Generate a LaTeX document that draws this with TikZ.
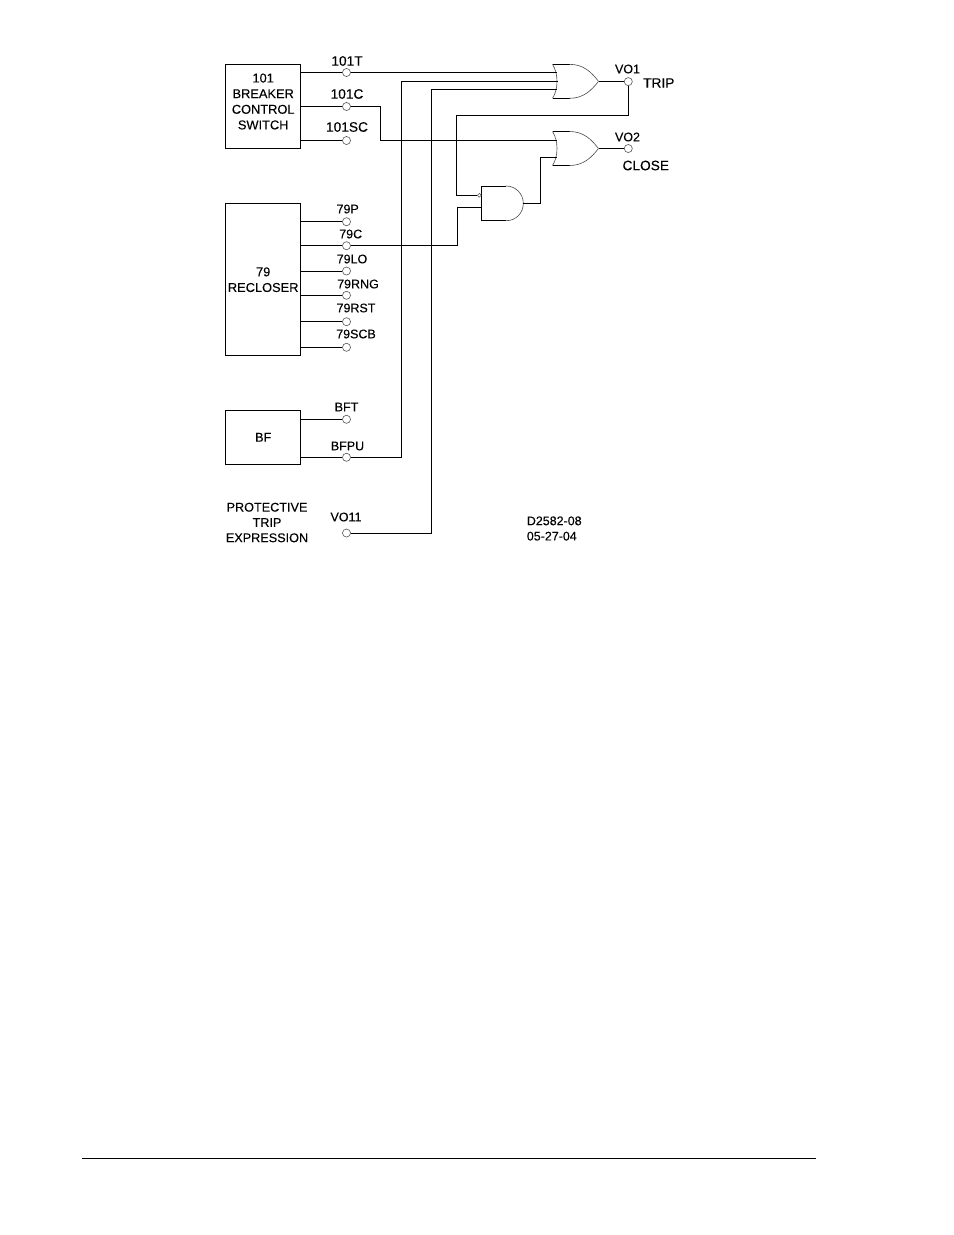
\documentclass[tikz,border=0pt]{standalone}
\usepackage{fontspec}
\setmainfont{Liberation Sans}[FakeBold=0.15]
\usepackage{tikz}
\usetikzlibrary{calc}

\tikzset{
    wire/.style={black, line width=0.55pt},
    curveline/.style={black!70, line width=0.35pt},
    term/.style={circle, draw=black!65, fill=white, line width=0.35pt, inner sep=0pt, minimum size=4.6pt},
    notmark/.style={circle, draw=black!65, fill=white, line width=0.3pt, inner sep=0pt, minimum size=2.2pt},
    blockbox/.style={rectangle, draw=black, line width=0.55pt, fill=white, inner sep=0pt},
    blocktext/.style={inner sep=0pt, align=center, font=\fontsize{7.3}{8.9}\selectfont},
    lbl/.style={inner sep=0pt, font=\fontsize{7.1}{9}\selectfont},
    lblbig/.style={inner sep=0pt, font=\fontsize{7.8}{9}\selectfont},
    note/.style={inner sep=0pt, align=center, font=\fontsize{7.2}{8.7}\selectfont}
}

% or gate at a centre point
\newcommand{\orshape}[2]{
    \coordinate (#1) at (#2);
    \draw[wire] ($(#1)+(-23,-17)$) -- ($(#1)+(-6,-17)$);
    \draw[wire] ($(#1)+(-23,17)$) -- ($(#1)+(-6,17)$);
    \draw[curveline] ($(#1)+(-23,-17)$) .. controls ($(#1)+(-17,-8)$) and ($(#1)+(-17,8)$) .. ($(#1)+(-23,17)$);
    \draw[curveline] ($(#1)+(-6,-17)$) .. controls ($(#1)+(8,-17)$) and ($(#1)+(16,-9)$) .. ($(#1)+(23,0)$);
    \draw[curveline] ($(#1)+(-6,17)$) .. controls ($(#1)+(8,17)$) and ($(#1)+(16,9)$) .. ($(#1)+(23,0)$);
}

\begin{document}
\begin{tikzpicture}[x=0.02cm, y=-0.02cm]
    \useasboundingbox (0,0) rectangle (954,1235);

    % blocks
    \node[blockbox, minimum width=1.49cm, minimum height=1.67cm] (brk) at (263.2,106.3) {};
    \node[blockbox, minimum width=1.49cm, minimum height=3.05cm] (rec) at (263.2,279.5) {};
    \node[blockbox, minimum width=1.49cm, minimum height=1.09cm] (bf) at (263.2,437.7) {};
    \node[blocktext] (lbrk) at (263.2,101.5) {101\\BREAKER\\CONTROL\\SWITCH};
    \node[blocktext] (lrec) at (263.2,279.7) {79\\RECLOSER};
    \node[blocktext] (lbf) at (263.2,437.3) {BF};

    % terminals
    \node[term] (t101T) at (346.5,72.5) {};
    \node[term] (t101C) at (346.5,106.5) {};
    \node[term] (t101SC) at (346.5,140.5) {};
    \node[term] (t79P) at (346.5,221.7) {};
    \node[term] (t79C) at (346.5,245.7) {};
    \node[term] (t79LO) at (346.5,271) {};
    \node[term] (t79RNG) at (346.5,295.3) {};
    \node[term] (t79RST) at (346.5,321.7) {};
    \node[term] (t79SCB) at (346.5,347.3) {};
    \node[term] (tBFT) at (346.5,419.3) {};
    \node[term] (tBFPU) at (346.5,457.3) {};
    \node[term] (tVO11) at (346.5,533) {};
    \node[term] (tVO1) at (628.3,81.6) {};
    \node[term] (tVO2) at (628.3,148.5) {};

    % gates
    \orshape{orA}{575.5,81.3}
    \orshape{orB}{575.5,148.5}
    \coordinate (andA) at (481.3,186);
    \draw[wire] (481.3,186) -- (506,186);
    \draw[wire] (481.3,186) -- (481.3,220.7);
    \draw[wire] (481.3,220.7) -- (506,220.7);
    \draw[curveline] (506,186) .. controls (516,186) and (523.3,194) .. (523.3,203.4) .. controls (523.3,213) and (516,220.7) .. (506,220.7);
    \node[notmark] (andN) at (479.3,195.3) {};
    \coordinate (andB) at (481.3,207.3);
    \coordinate (andO) at (523.3,203.5);

    % gate input points
    \coordinate (orAa) at (557,72.5);
    \coordinate (orAb) at (558,81.7);
    \coordinate (orAc) at (557,89.3);
    \coordinate (orBa) at (556.5,140.3);
    \coordinate (orBb) at (556.5,157.3);
    \coordinate (orAo) at (598.5,81.6);
    \coordinate (orBo) at (598.5,148.5);

    % wires
    \draw[wire] (brk.east |- t101T) -- (t101T);
    \draw[wire] (t101T) -- (orAa);
    \draw[wire] (brk.east |- t101C) -- (t101C);
    \draw[wire] (t101C) -- (380.6,106.5) -- (380.6,140.3) -- (orBa);
    \draw[wire] (brk.east |- t101SC) -- (t101SC);

    \draw[wire] (rec.east |- t79P) -- (t79P);
    \draw[wire] (rec.east |- t79C) -- (t79C);
    \draw[wire] (t79C) -- (457.3,245.7) -- (457.3,207.3) -- (andB);
    \draw[wire] (rec.east |- t79LO) -- (t79LO);
    \draw[wire] (rec.east |- t79RNG) -- (t79RNG);
    \draw[wire] (rec.east |- t79RST) -- (t79RST);
    \draw[wire] (rec.east |- t79SCB) -- (t79SCB);

    \draw[wire] (bf.east |- tBFT) -- (tBFT);
    \draw[wire] (bf.east |- tBFPU) -- (tBFPU);
    \draw[wire] (tBFPU) -- (401.3,457.3) -- (401.3,81.7) -- (orAb);
    \draw[wire] (tVO11) -- (431.7,533) -- (431.7,89.3) -- (orAc);

    \draw[wire] (orAo) -- (tVO1);
    \draw[wire] (orBo) -- (tVO2);
    \draw[wire] (tVO1) -- (628.3,115.3) -- (456.3,115.3) -- (456.3,195.3) -- (andN);
    \draw[wire] (andO) -- (540.3,203.5) -- (540.3,157.3) -- (orBb);

    % labels
    \node[lblbig] (l101T) at (347,61) {101T};
    \node[lblbig] (l101C) at (347,94) {101C};
    \node[lblbig] (l101SC) at (347,127) {101SC};
    \node[lbl] (l79P) at (347.7,209) {79P};
    \node[lbl] (l79C) at (350.7,234) {79C};
    \node[lbl] (l79LO) at (352,259) {79LO};
    \node[lbl] (l79RNG) at (358,284) {79RNG};
    \node[lbl] (l79RST) at (356,308) {79RST};
    \node[lbl] (l79SCB) at (356,334) {79SCB};
    \node[lbl] (lBFT) at (346.5,407) {BFT};
    \node[lbl] (lBFPU) at (347.5,446) {BFPU};
    \node[lbl] (lVO11) at (346,517) {VO11};
    \node[lbl] (lVO1) at (627.5,69) {VO1};
    \node[lbl] (lVO2) at (627.5,137) {VO2};
    \node[lblbig] (lTRIP) at (658.8,83) {TRIP};
    \node[lblbig] (lCLOSE) at (645.8,165.5) {CLOSE};
    \node[note] (lPTE) at (267,522.5) {PROTECTIVE\\TRIP\\EXPRESSION};
    \node[note, anchor=west, align=left, font=\fontsize{7.1}{8.7}\selectfont] (lDWG) at (526.5,528.5) {D2582-08\\05-27-04};

    % page rule
    \coordinate (ruleL) at (82,1158.4);
    \coordinate (ruleR) at (816,1158.4);
    \draw[black, line width=0.7pt] (ruleL) -- (ruleR);
\end{tikzpicture}
\end{document}
